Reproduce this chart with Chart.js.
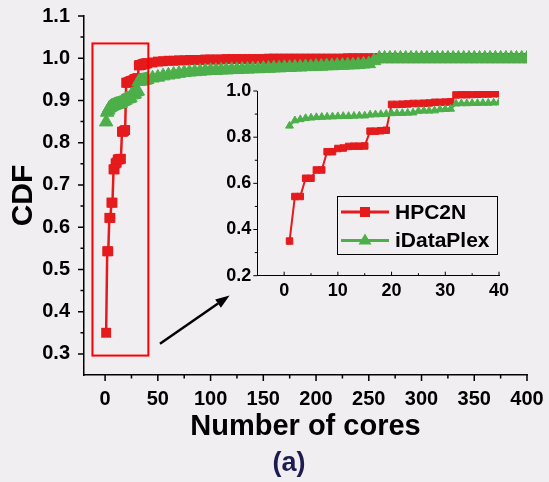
<!DOCTYPE html>
<html>
<head>
<meta charset="utf-8">
<title>CDF of number of cores</title>
<script src="https://cdn.jsdelivr.net/npm/chart.js@4.4.1/dist/chart.umd.min.js"></script>
<style>
  html, body { margin: 0; padding: 0; background: #f0eef0; }
  #wrap { position: relative; width: 549px; height: 482px; overflow: hidden; }
  #main { position: absolute; left: 0; top: 0; }
  #inset { position: absolute; left: 200px; top: 70px; }
  #caption {
    position: absolute; left: 0; top: 447px; width: 578px;
    text-align: center; line-height: 27px;
    font: bold 27px 'Liberation Sans', Arial, sans-serif; color: #1c1c50;
  }
</style>
</head>
<body>
<div id="wrap">
  <canvas id="main" width="549" height="482"></canvas>
  <canvas id="inset" width="320" height="230"></canvas>
  <div id="caption">(a)</div>
</div>
<script>
// --- data ---
// first 40 cores (shown in both plots)
const coresFine = [1, 2, 3, 4, 5, 6, 7, 8, 9, 10, 11, 12, 13, 14, 15, 16, 17, 18, 19, 20,
                   21, 22, 23, 24, 25, 26, 27, 28, 29, 30, 31, 32, 33, 34, 35, 36, 37, 38, 39, 40];
const hpc2nFine = [0.350, 0.543, 0.543, 0.622, 0.622, 0.658, 0.658, 0.737, 0.737, 0.751,
                   0.753, 0.760, 0.761, 0.761, 0.762, 0.826, 0.826, 0.828, 0.830, 0.942,
                   0.942, 0.943, 0.944, 0.946, 0.946, 0.947, 0.948, 0.951, 0.951, 0.952,
                   0.953, 0.983, 0.984, 0.984, 0.985, 0.986, 0.987, 0.987, 0.988, 0.988];
const idataFine = [0.849, 0.872, 0.877, 0.882, 0.884, 0.886, 0.887, 0.888, 0.889, 0.890,
                   0.891, 0.891, 0.892, 0.893, 0.893, 0.897, 0.898, 0.899, 0.900, 0.903,
                   0.904, 0.904, 0.905, 0.906, 0.913, 0.914, 0.914, 0.915, 0.920, 0.921,
                   0.922, 0.945, 0.946, 0.946, 0.947, 0.947, 0.948, 0.948, 0.949, 0.950];

// rest of the range (main plot only)
const coresTail = [45, 50, 55, 60, 65, 70, 75, 80, 85, 90, 95, 100, 105, 110, 115, 120, 125, 130,
                   135, 140, 145, 150, 155, 160, 165, 170, 175, 180, 185, 190, 195, 200, 205, 210,
                   215, 220, 225, 230, 235, 240, 245, 250, 255, 260, 265, 270, 275, 280, 285, 290,
                   295, 300, 305, 310, 315, 320, 325, 330, 335, 340, 345, 350, 355, 360, 365, 370,
                   375, 380, 385, 390, 395, 400];
const hpc2nTail = [0.990, 0.992, 0.993, 0.994, 0.994, 0.995, 0.995, 0.996, 0.996, 0.996,
                   0.997, 0.997, 0.997, 0.997, 0.998, 0.998, 0.998, 0.998, 0.998, 0.998,
                   0.998, 0.998, 0.999, 0.999, 0.999, 0.999, 0.999, 0.999, 0.999, 0.999,
                   0.999, 0.999, 0.999, 0.999, 0.999, 0.999, 0.999, 1.000, 1.000, 1.000,
                   1.000, 1.000, 1.000, 1.000, 1.000, 1.000, 1.000, 1.000, 1.000, 1.000,
                   1.000, 1.000, 1.000, 1.000, 1.000, 1.000, 1.000, 1.000, 1.000, 1.000,
                   1.000, 1.000, 1.000, 1.000, 1.000, 1.000, 1.000, 1.000, 1.000, 1.000,
                   1.000, 1.000];
const idataTail = [0.953, 0.955, 0.958, 0.960, 0.962, 0.964, 0.966, 0.967, 0.968, 0.969,
                   0.970, 0.971, 0.971, 0.972, 0.972, 0.973, 0.973, 0.974, 0.974, 0.975,
                   0.975, 0.976, 0.976, 0.977, 0.977, 0.978, 0.978, 0.979, 0.979, 0.980,
                   0.980, 0.981, 0.981, 0.982, 0.982, 0.983, 0.983, 0.984, 0.984, 0.985,
                   0.986, 0.987, 0.994, 1.000, 1.000, 1.000, 1.000, 1.000, 1.000, 1.000,
                   1.000, 1.000, 1.000, 1.000, 1.000, 1.000, 1.000, 1.000, 1.000, 1.000,
                   1.000, 1.000, 1.000, 1.000, 1.000, 1.000, 1.000, 1.000, 1.000, 1.000,
                   1.000, 1.000];

const seriesNames = ['HPC2N', 'iDataPlex'];

// tick positions
const mainXTicks = [0, 50, 100, 150, 200, 250, 300, 350, 400];
const mainXMinor = [25, 75, 125, 175, 225, 275, 325, 375];
const mainYTicks = [0.3, 0.4, 0.5, 0.6, 0.7, 0.8, 0.9, 1.0, 1.1];
const mainYMinor = [0.35, 0.45, 0.55, 0.65, 0.75, 0.85, 0.95, 1.05];
const insetXTicks = [0, 10, 20, 30, 40];
const insetXMinor = [5, 15, 25, 35];
const insetYTicks = [0.2, 0.4, 0.6, 0.8, 1.0];
const insetYMinor = [0.3, 0.5, 0.7, 0.9];

const RED = '#e41a1c';
const GREEN = '#4daf4a';
const FONT = "'Liberation Sans', Arial, sans-serif";

function points(xs, ys) {
    return xs.map((x, i) => ({ x: x, y: ys[i] }));
}

// draws major + minor tick marks on x and y axes
const tickMarks = {
    id: 'tickMarks',
    afterDraw(chart, args, o) {
        const ctx = chart.ctx;
        const area = chart.chartArea;
        const xs = chart.scales.x, ys = chart.scales.y;
        ctx.save();
        ctx.strokeStyle = '#000';
        ctx.lineWidth = o.width;
        ctx.beginPath();
        const xTick = (v, len) => {
            const p = xs.getPixelForValue(v);
            ctx.moveTo(p, area.bottom);
            ctx.lineTo(p, area.bottom + o.xDir * len);
        };
        const yTick = (v, len) => {
            const p = ys.getPixelForValue(v);
            ctx.moveTo(area.left, p);
            ctx.lineTo(area.left - len, p);
        };
        o.xMajor.forEach(v => xTick(v, o.major));
        o.xMinor.forEach(v => xTick(v, o.minor));
        o.yMajor.forEach(v => yTick(v, o.major));
        o.yMinor.forEach(v => yTick(v, o.minor));
        ctx.stroke();
        ctx.restore();
    }
};

// red zoom box + arrow pointing to the inset
const zoomMark = {
    id: 'zoomMark',
    afterDatasetsDraw(chart, args, o) {
        const ctx = chart.ctx;
        const xs = chart.scales.x, ys = chart.scales.y;
        ctx.save();
        ctx.strokeStyle = '#ff0000';
        ctx.lineWidth = 2;
        const x0 = xs.getPixelForValue(o.box[0]), x1 = xs.getPixelForValue(o.box[1]);
        const y0 = ys.getPixelForValue(o.box[2]), y1 = ys.getPixelForValue(o.box[3]);
        ctx.strokeRect(x0, y1, x1 - x0, y0 - y1);

        const ax = xs.getPixelForValue(o.arrow[0]), ay = ys.getPixelForValue(o.arrow[1]);
        const bx = xs.getPixelForValue(o.arrow[2]), by = ys.getPixelForValue(o.arrow[3]);
        const ang = Math.atan2(by - ay, bx - ax);
        const head = 14, half = 5;
        const hx = bx - head * Math.cos(ang), hy = by - head * Math.sin(ang);
        ctx.strokeStyle = '#000';
        ctx.fillStyle = '#000';
        ctx.lineWidth = 2.5;
        ctx.beginPath();
        ctx.moveTo(ax, ay);
        ctx.lineTo(hx, hy);
        ctx.stroke();
        ctx.beginPath();
        ctx.moveTo(bx, by);
        ctx.lineTo(hx + half * Math.sin(ang), hy - half * Math.cos(ang));
        ctx.lineTo(hx - half * Math.sin(ang), hy + half * Math.cos(ang));
        ctx.closePath();
        ctx.fill();
        ctx.restore();
    }
};

// boxed legend inside the inset
const boxLegend = {
    id: 'boxLegend',
    afterDraw(chart, args, o) {
        const ctx = chart.ctx;
        ctx.save();
        ctx.fillStyle = '#f0eef0';
        ctx.fillRect(o.left, o.top, o.width, o.height);
        ctx.strokeStyle = '#000';
        ctx.lineWidth = 1;
        ctx.strokeRect(o.left + 0.5, o.top + 0.5, o.width, o.height);
        ctx.font = 'bold 21px ' + FONT;
        ctx.textBaseline = 'middle';
        chart.data.datasets.forEach((ds, i) => {
            const y = o.top + o.firstRow + i * o.rowGap;
            const lx = o.left + 4, mx = lx + o.swatch / 2;
            ctx.strokeStyle = ds.borderColor;
            ctx.fillStyle = ds.borderColor;
            ctx.lineWidth = 2.8;
            ctx.beginPath();
            ctx.moveTo(lx, y);
            ctx.lineTo(lx + o.swatch, y);
            ctx.stroke();
            ctx.beginPath();
            if (ds.pointStyle === 'rect') {
                ctx.rect(mx - 5, y - 5, 10, 10);
            } else {
                ctx.moveTo(mx, y - 7);
                ctx.lineTo(mx + 6.5, y + 4);
                ctx.lineTo(mx - 6.5, y + 4);
                ctx.closePath();
            }
            ctx.fill();
            ctx.fillStyle = '#000';
            ctx.fillText(ds.label, lx + o.swatch + 6, y + 1);
        });
        ctx.restore();
    }
};

function fixedTicks(list) {
    return axis => { axis.ticks = list.map(v => ({ value: v })); };
}

document.addEventListener('DOMContentLoaded', function () {
    Chart.defaults.font.family = FONT;
    Chart.defaults.color = '#000';

    // main chart
    new Chart(document.getElementById('main'), {
        type: 'line',
        data: {
            datasets: [{
                label: seriesNames[0],
                data: points(coresFine.concat(coresTail), hpc2nFine.concat(hpc2nTail)),
                borderColor: RED, backgroundColor: RED,
                borderWidth: 2.5, pointStyle: 'rect', pointRadius: 7,
                pointBorderWidth: 0, order: 2
            }, {
                label: seriesNames[1],
                data: points(coresFine.concat(coresTail), idataFine.concat(idataTail)),
                borderColor: GREEN, backgroundColor: GREEN,
                borderWidth: 2.5, pointStyle: 'triangle', pointRadius: 7.8,
                pointBorderWidth: 1, order: 1
            }]
        },
        options: {
            responsive: false,
            animation: false,
            devicePixelRatio: 1,
            layout: { padding: { top: 16, right: 22, left: 0, bottom: 0 } },
            plugins: {
                legend: { display: false },
                tooltip: { enabled: false },
                tickMarks: {
                    xMajor: mainXTicks, xMinor: mainXMinor, yMajor: mainYTicks, yMinor: mainYMinor,
                    major: 6, minor: 3.5, xDir: 1, width: 1.5
                },
                zoomMark: { box: [-12, 41, 0.296, 1.035], arrow: [52, 0.324, 118, 0.438] }
            },
            scales: {
                x: {
                    type: 'linear', min: -20, max: 400,
                    grid: { display: false, drawTicks: false },
                    border: { display: true, color: '#000', width: 1.5 },
                    afterBuildTicks: fixedTicks(mainXTicks),
                    afterFit: s => { s.height = 107; s.paddingLeft = 0; s.paddingRight = 0; },
                    ticks: { padding: 12, autoSkip: false, maxRotation: 0, font: { size: 20, weight: 'bold' } },
                    title: {
                        display: true, text: 'Number of cores',
                        font: { size: 29, weight: 'bold' }, padding: { top: 0, bottom: 38 }
                    }
                },
                y: {
                    type: 'linear', min: 0.25, max: 1.1,
                    grid: { display: false, drawTicks: false },
                    border: { display: true, color: '#000', width: 1.5 },
                    afterBuildTicks: fixedTicks(mainYTicks),
                    afterFit: s => { s.width = 84; s.paddingTop = 0; s.paddingBottom = 0; },
                    ticks: {
                        padding: 14, autoSkip: false, font: { size: 20, weight: 'bold' },
                        callback: v => Number(v).toFixed(1)
                    },
                    title: {
                        display: true, text: 'CDF',
                        font: { size: 30, weight: 'bold' }, padding: { top: 6, bottom: 0 }
                    }
                }
            }
        },
        plugins: [tickMarks, zoomMark]
    });

    // inset: first 40 cores
    new Chart(document.getElementById('inset'), {
        type: 'line',
        data: {
            datasets: [{
                label: seriesNames[0],
                data: points(coresFine, hpc2nFine),
                borderColor: RED, backgroundColor: RED,
                borderWidth: 2, pointStyle: 'rect', pointRadius: 4.6,
                pointBorderWidth: 1, order: 2
            }, {
                label: seriesNames[1],
                data: points(coresFine, idataFine),
                borderColor: GREEN, backgroundColor: GREEN,
                borderWidth: 2, pointStyle: 'triangle', pointRadius: 4.5,
                pointBorderWidth: 1, order: 1
            }]
        },
        options: {
            responsive: false,
            animation: false,
            devicePixelRatio: 1,
            layout: { padding: { top: 21, right: 21, left: 0, bottom: 0 } },
            plugins: {
                legend: { display: false },
                tooltip: { enabled: false },
                tickMarks: {
                    xMajor: insetXTicks, xMinor: insetXMinor, yMajor: insetYTicks, yMinor: insetYMinor,
                    major: 4, minor: 2.5, xDir: -1, width: 1
                },
                boxLegend: { left: 137, top: 126, width: 160, height: 58, firstRow: 16, rowGap: 28.5, swatch: 48 }
            },
            scales: {
                x: {
                    type: 'linear', min: -5, max: 40,
                    grid: { display: false, drawTicks: false },
                    border: { display: true, color: '#000', width: 1 },
                    afterBuildTicks: fixedTicks(insetXTicks),
                    afterFit: s => { s.height = 24.3; s.paddingLeft = 0; s.paddingRight = 0; },
                    ticks: { padding: 5, autoSkip: false, maxRotation: 0, font: { size: 18, weight: 'bold' } }
                },
                y: {
                    type: 'linear', min: 0.2, max: 1.0,
                    grid: { display: false, drawTicks: false },
                    border: { display: true, color: '#000', width: 1 },
                    afterBuildTicks: fixedTicks(insetYTicks),
                    afterFit: s => { s.width = 57.3; s.paddingTop = 0; s.paddingBottom = 0; },
                    ticks: {
                        padding: 6, autoSkip: false, font: { size: 18, weight: 'bold' },
                        callback: v => Number(v).toFixed(1)
                    }
                }
            }
        },
        plugins: [tickMarks, boxLegend]
    });
});
</script>
</body>
</html>
